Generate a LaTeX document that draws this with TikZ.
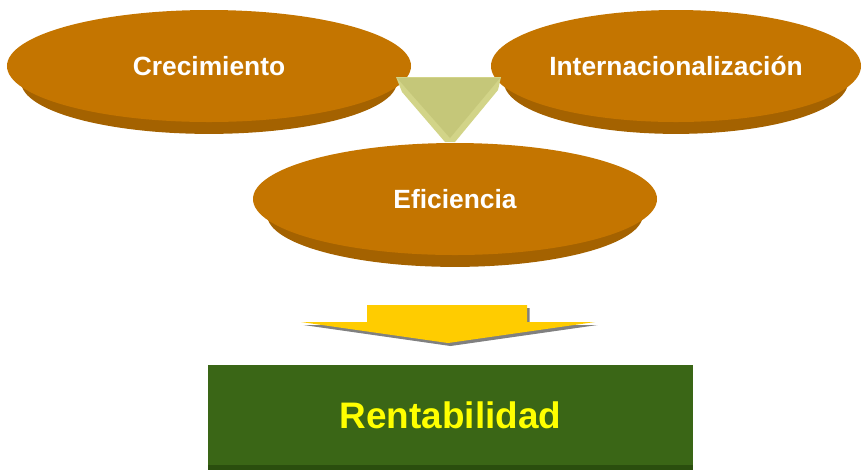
\documentclass[tikz,border=0pt]{standalone}
\usepackage{fontspec}
\setmainfont{Liberation Sans}
\definecolor{Ochre}{RGB}{196,117,0}
\definecolor{OchreDark}{RGB}{164,98,0}
\definecolor{Olive}{RGB}{197,199,121}
\definecolor{OliveLight}{RGB}{210,212,136}
\definecolor{Gold}{RGB}{255,204,0}
\definecolor{Moss}{RGB}{58,102,22}
\definecolor{MossDark}{RGB}{42,78,14}
\definecolor{Lemon}{RGB}{255,255,0}
\usetikzlibrary{shapes.geometric, shadows, positioning}

\begin{document}
\begin{tikzpicture}[x=0.2mm, y=-0.2mm,
        disc/.style={ellipse, fill=Ochre, minimum width=80.8mm, minimum height=22.4mm, inner sep=0pt, text=white, font=\fontsize{15}{18}\selectfont\bfseries,
            drop shadow={shadow xshift=0mm, shadow yshift=-3.4mm, shadow scale=0.93, fill=OchreDark, opacity=1}},
        goal/.style={rectangle, fill=Moss, minimum width=97mm, minimum height=20mm, inner sep=0pt, text=Lemon, font=\fontsize{21}{25}\selectfont\bfseries,
            drop shadow={shadow xshift=0mm, shadow yshift=-1mm, fill=MossDark, opacity=1}},
        funnel/.style={fill=Olive},
        bevel/.style={fill=OliveLight},
        bigarrow/.style={fill=Gold, drop shadow={shadow xshift=0.5mm, shadow yshift=-0.6mm, fill=black!50, opacity=1}}
    ]
        \useasboundingbox (0,0) rectangle (863,469);

        \node[disc] (crec) at (209,66) {Crecimiento};
        \node[disc, minimum width=74mm] (inter) at (676,66) {Internacionalización};

        % funnel between the two top discs
        \fill[bevel] (396,77) -- (402,92) -- (445,142) -- (455,142) -- (498,90) -- (501,77) -- cycle;
        \fill[funnel] (397,78) -- (500,78) -- (450,138) -- cycle;

        \node[disc] (efic) at (455,199) {Eficiencia};

        % arrow down to the result
        \fill[bigarrow] (367,305) -- (527,305) -- (527,322) -- (595,322) -- (448,343) -- (301,322) -- (367,322) -- cycle;

        \node[goal] (rent) at (450.5,415) {Rentabilidad};
    \end{tikzpicture}
\end{document}
